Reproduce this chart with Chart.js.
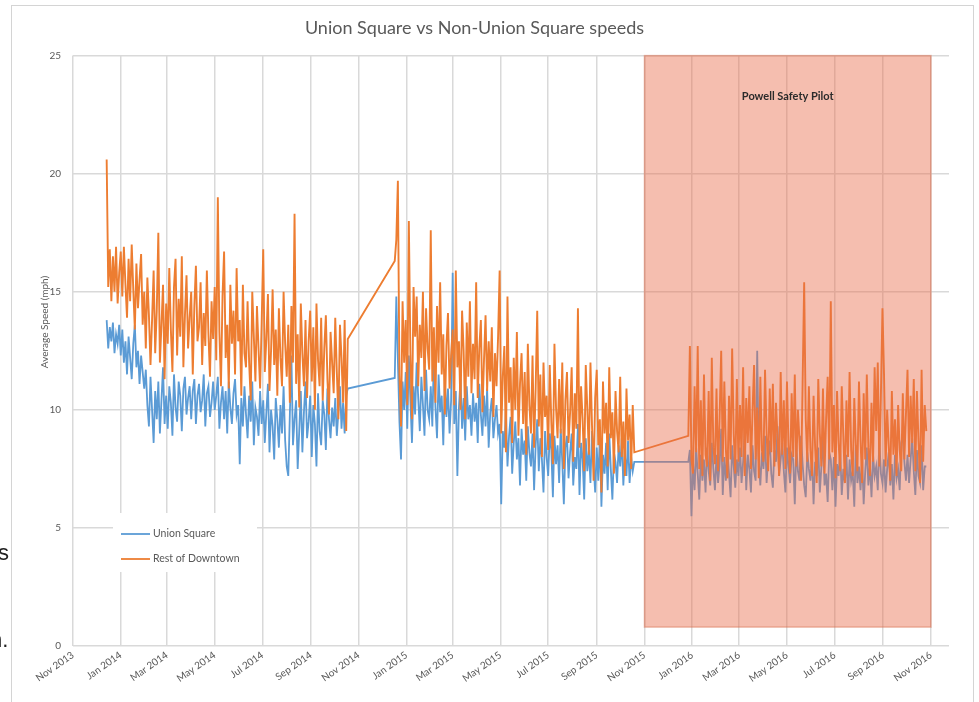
<!DOCTYPE html>
<html lang="en">
<head>
    <meta charset="UTF-8">
    <title>Union Square vs Non-Union Square speeds</title>
    <script src="https://cdn.jsdelivr.net/npm/chart.js"></script>
    <style>
        html, body { margin: 0; padding: 0; background: #fff; }
        #wrap { width: 979px; height: 702px; }
    </style>
</head>
<body>
    <div id="wrap"><canvas id="chart"></canvas></div>

    <script>
        // Dane (co 2 dni)
        const segmentStarts = ['2013-12-14', '2014-12-17', '2015-12-27'];
        const stepDays = 2;

        const restSeg1 = [20.6, 15.2, 16.8, 14.6, 16.5, 15.0, 16.9, 14.5, 15.8, 16.7,
            14.8, 16.9, 15.3, 13.9, 16.4, 14.6, 17.0, 15.1, 13.4, 16.2, 14.3, 15.5, 16.6, 13.6, 15.0,
            12.6, 15.6, 14.0, 11.9, 13.8, 15.9, 12.4, 14.2, 17.5, 12.0, 13.6, 15.3, 11.3, 14.5,
            12.8, 16.0, 13.4, 11.6, 15.2, 16.4, 12.3, 14.7, 13.1, 16.5, 11.8, 14.0, 15.7, 12.6, 13.9, 15.0,
            11.5, 14.4, 16.1, 12.9, 13.5, 15.4, 11.9, 14.1, 12.7, 15.9, 13.2, 11.4, 14.6, 13.0, 15.2,
            12.1, 19.0, 13.3, 11.0, 14.8, 16.7, 12.2, 13.6, 10.9, 15.3, 12.8, 14.2, 11.5, 16.0, 12.9,
            13.8, 10.6, 15.3, 12.4, 11.8, 14.6, 12.0, 10.4, 15.0, 13.1, 11.2, 14.4, 12.6, 10.9, 13.7,
            16.8, 11.6, 13.0, 14.9, 10.8, 12.5, 15.1, 11.9, 13.4, 10.6, 14.3, 12.2, 11.0, 15.0, 12.8, 11.4,
            13.6, 10.3, 14.4, 12.0, 18.3, 11.1, 13.2, 10.1, 14.5, 12.4, 11.0, 13.8, 10.5, 12.9, 14.2,
            11.2, 13.5, 10.0, 14.5, 12.1, 11.0, 13.9, 10.4, 12.6, 14.0, 11.3, 9.8, 13.3, 12.0, 10.7,
            13.9, 11.6, 9.6, 13.6, 12.2, 10.3, 13.8, 9.1, 13.0];
        const restSeg2 = [16.3, 17.2, 19.7, 11.5, 9.3, 14.6, 12.0,
            13.8, 10.2, 18.0, 12.4, 9.6, 15.2, 13.1, 14.8, 11.0, 13.6, 12.2, 15.0, 10.8, 14.3, 12.6, 11.7,
            17.6, 11.2, 13.5, 10.3, 14.4, 12.0, 15.4, 11.5, 13.2, 9.8, 12.7, 14.1, 10.9, 12.3,
            13.4, 10.2, 15.9, 11.8, 12.9, 10.0, 14.2, 12.5, 9.6, 13.7, 11.4, 14.6, 10.7, 12.8, 11.3,
            15.4, 10.5, 12.6, 13.8, 9.9, 12.1, 14.0, 10.8, 12.9, 11.2, 13.5, 9.7, 12.4, 11.0, 13.1,
            15.9, 9.0, 11.4, 12.7, 8.2, 14.8, 10.3, 11.8, 8.6, 12.2, 10.0, 13.3, 8.9, 11.1, 12.4, 9.4,
            11.6, 8.1, 12.8, 10.2, 9.0, 12.3, 8.4, 10.9, 14.2, 9.3, 11.5, 8.0, 12.0, 9.7, 10.6,
            8.3, 11.9, 9.5, 7.7, 12.8, 10.1, 8.8, 11.3, 9.0, 12.0, 7.5, 10.4, 11.6, 8.6, 9.9,
            11.8, 7.8, 10.7, 9.2, 14.3, 8.4, 11.0, 9.6, 7.4, 11.9, 10.0, 8.1, 12.0, 9.3, 7.0, 10.5,
            11.7, 8.5, 9.6, 6.5, 11.2, 9.0, 10.3, 7.6, 11.8, 8.8, 9.9, 7.3, 10.8, 9.1, 8.2,
            11.4, 8.0, 9.5, 7.2, 10.9, 8.7, 9.8, 7.5, 10.2, 8.2];
        const restSeg3 = [8.9, 12.7, 7.9,
            7.3, 11.0, 8.2, 12.7, 7.5, 10.4, 7.2, 11.5, 8.1, 7.6, 10.8, 7.0, 12.2, 8.4, 7.7,
            10.9, 7.4, 9.7, 12.5, 7.8, 11.2, 8.3, 7.1, 10.6, 7.9, 12.6, 9.0, 7.3, 11.3, 7.8,
            10.2, 8.0, 11.8, 7.2, 10.5, 8.6, 11.0, 7.5, 9.9, 11.9, 7.9, 10.1, 7.1, 11.4, 8.3,
            7.8, 11.7, 9.0, 7.4, 10.9, 8.2, 11.1, 7.6, 10.3, 8.8, 7.2, 11.6, 8.1, 10.4, 7.5,
            11.2, 8.5, 7.3, 10.7, 8.0, 11.5, 7.6, 10.0, 8.7, 7.0, 11.1, 15.4, 9.6, 7.8, 11.0, 8.3,
            7.2, 10.6, 8.4, 6.9, 11.3, 9.0, 7.6, 10.9, 7.3, 9.6, 11.4, 7.9, 14.6, 8.2, 10.2,
            7.1, 10.8, 8.6, 7.4, 11.0, 8.9, 6.9, 10.4, 8.0, 11.6, 8.3, 7.2, 10.5, 8.5, 7.4, 11.2,
            8.7, 6.9, 10.7, 7.9, 11.5, 8.4, 7.2, 10.3, 7.8, 11.8, 9.1, 12.0, 7.6, 10.6, 14.3,
            11.5, 7.6, 10.0, 8.5, 7.0, 10.8, 8.1, 9.6, 7.2, 10.2, 8.3, 7.4, 10.7, 7.9, 9.8,
            11.7, 8.0, 10.6, 8.6, 11.3, 7.4, 10.8, 8.7, 6.9, 11.7, 7.8, 10.2, 9.1];

        const unionSeg1 = [13.8, 12.6, 13.5, 12.9, 13.7, 12.4, 13.2, 12.8, 13.6, 12.3,
            13.4, 12.0, 12.9, 11.5, 13.1, 12.2, 11.3, 12.8, 13.6, 11.8, 12.5, 11.1, 12.3, 11.6, 10.9,
            11.7, 10.2, 9.3, 11.4, 10.0, 8.6, 10.8, 9.6, 11.2, 9.0, 10.4, 11.8, 9.4, 10.6,
            9.2, 11.0, 10.3, 8.9, 11.5, 10.1, 9.5, 11.2, 10.6, 9.1, 10.9, 11.4, 9.8, 10.5, 11.0, 9.6,
            10.8, 11.3, 9.4, 10.6, 11.1, 9.9, 10.4, 11.5, 9.3, 10.7, 11.0, 9.7, 10.3, 11.2, 10.0,
            10.6, 11.4, 9.2, 10.3, 11.0, 9.6, 10.8, 9.0, 11.2, 10.1, 9.4, 10.7, 11.3, 9.8, 10.2,
            7.7, 10.5, 9.3, 11.0, 9.8, 8.8, 10.6, 9.5, 11.2, 8.5, 10.1, 9.7, 8.9, 10.8, 9.4,
            10.4, 8.6, 9.9, 11.1, 8.2, 10.0, 9.3, 7.9, 10.5, 9.6, 8.4, 10.2, 9.0, 11.0, 8.7, 7.6,
            7.2, 9.8, 12.3, 8.5, 9.6, 10.4, 7.5, 9.1, 10.8, 8.2, 9.9, 11.2, 8.8, 9.5, 10.6,
            8.0, 10.2, 9.4, 7.6, 10.7, 9.1, 8.5, 10.4, 9.8, 8.3, 10.9, 9.6, 8.8, 10.1, 9.3,
            10.5, 8.9, 9.9, 11.0, 9.2, 10.3, 9.0, 10.6, 10.9];
        const unionSeg2 = [11.35, 14.8, 12.1, 9.5, 7.9, 11.2, 10.0,
            11.6, 9.2, 12.3, 10.4, 8.6, 11.0, 9.8, 12.0, 10.5, 9.1, 11.4, 10.2, 8.9, 11.7, 10.0, 9.6,
            11.0, 9.3, 12.4, 10.1, 8.8, 11.5, 9.9, 10.6, 8.5, 11.2, 9.7, 10.9, 9.0, 10.4,
            15.8, 9.4, 10.8, 7.2, 10.1, 11.3, 9.2, 10.5, 8.7, 11.0, 9.6, 10.2, 8.9, 10.7, 9.5,
            10.3, 8.6, 11.1, 9.8, 8.9, 10.6, 9.3, 10.9, 8.4, 9.9, 10.5, 8.8, 9.6, 10.2, 9.0,
            9.4, 6.0, 9.1, 8.4, 10.0, 7.6, 8.9, 9.7, 7.3, 8.6, 9.5, 7.9, 8.8, 6.8, 9.2, 8.1,
            8.7, 7.0, 9.3, 8.2, 7.6, 9.0, 6.6, 8.5, 9.6, 7.4, 8.8, 7.9, 6.5, 9.1, 8.0,
            7.2, 9.0, 8.3, 6.3, 8.9, 7.7, 8.5, 6.9, 9.2, 7.8, 6.0, 8.4, 8.9, 7.1, 8.2,
            9.0, 6.8, 8.0, 7.5, 9.4, 6.4, 8.6, 7.9, 6.2, 8.8, 7.4, 8.3, 6.9, 9.1, 7.7, 6.5,
            8.4, 7.0, 8.9, 5.9, 8.1, 7.3, 8.6, 6.6, 9.0, 7.5, 6.2, 8.2, 7.8, 6.9, 8.5,
            7.6, 8.8, 6.8, 8.1, 7.2, 8.7, 6.9, 8.0, 7.4, 7.8];
        const unionSeg3 = [7.8, 8.3, 5.5,
            7.8, 6.6, 8.4, 7.3, 6.2, 8.1, 7.0, 7.9, 6.5, 8.4, 7.4, 6.8, 8.6, 7.5, 6.6,
            8.1, 6.9, 7.7, 9.2, 6.4, 8.0, 7.0, 8.3, 7.3, 6.3, 8.5, 7.6, 6.7, 7.9, 7.2,
            8.4, 6.9, 7.8, 9.0, 6.6, 8.1, 7.5, 6.5, 8.5, 7.4, 7.0, 12.5, 7.9, 6.8, 8.2,
            7.5, 8.9, 6.9, 8.0, 8.7, 7.3, 6.7, 8.3, 7.8, 9.3, 7.2, 7.9, 8.6, 7.4, 6.5,
            8.4, 7.6, 6.9, 8.1, 7.9, 6.0, 8.5, 7.4, 7.0, 8.9, 7.7, 6.8, 6.3, 8.2, 7.5, 7.0,
            8.1, 6.0, 7.8, 7.2, 8.4, 6.5, 7.6, 8.8, 6.8, 7.3, 6.1, 8.2, 7.9, 6.6, 8.0,
            5.9, 7.7, 7.2, 8.3, 6.4, 7.5, 6.9, 8.1, 6.2, 7.9, 7.0, 7.4, 5.9, 8.5, 6.9, 7.6,
            6.6, 8.0, 6.0, 7.4, 8.4, 6.8, 7.7, 6.3, 8.1, 7.2, 7.6, 6.6, 8.7, 7.3, 6.9,
            7.9, 6.5, 7.5, 8.2, 6.8, 7.7, 6.2, 8.1, 7.1, 7.5, 6.6, 8.6, 8.9, 7.8, 7.0,
            8.1, 6.9, 7.9, 8.8, 7.4, 6.4, 8.3, 7.2, 6.9, 8.5, 6.6, 7.6, 7.6];

        const xTickLabels = ['Nov 2013', 'Jan 2014', 'Mar 2014', 'May 2014', 'Jul 2014', 'Sep 2014',
            'Nov 2014', 'Jan 2015', 'Mar 2015', 'May 2015', 'Jul 2015', 'Sep 2015',
            'Nov 2015', 'Jan 2016', 'Mar 2016', 'May 2016', 'Jul 2016', 'Sep 2016', 'Nov 2016'];
        const xAxisEnd = '2016-11-24';

        // Okres pilotażu
        const pilotStart = '2015-11-01';
        const pilotEnd = '2016-11-01';
        const pilotLow = 0.8;
        const pilotHigh = 25;
        const pilotLabel = 'Powell Safety Pilot';

        const BLUE = '#5B9BD5';
        const ORANGE = '#ED7D31';
        const TEXT = '#595959';
        const GRID = '#d9d9d9';

        const ORIGIN = Date.UTC(2013, 10, 1);
        const MONTHS = {Jan: 0, Feb: 1, Mar: 2, Apr: 3, May: 4, Jun: 5, Jul: 6, Aug: 7, Sep: 8, Oct: 9, Nov: 10, Dec: 11};

        function dayOf(str) {
            const [y, m, d] = str.split('-').map(Number);
            return (Date.UTC(y, m - 1, d) - ORIGIN) / 86400000;
        }

        function labelDay(label) {
            const [mon, yr] = label.split(' ');
            return (Date.UTC(Number(yr), MONTHS[mon], 1) - ORIGIN) / 86400000;
        }

        function toPoints(segments) {
            const pts = [];
            segments.forEach((vals, s) => {
                const d0 = dayOf(segmentStarts[s]);
                vals.forEach((v, i) => pts.push({x: d0 + i * stepDays, y: v}));
            });
            return pts;
        }

        const tickDays = xTickLabels.map(labelDay);
        const labelByDay = {};
        xTickLabels.forEach((l, i) => { labelByDay[tickDays[i]] = l; });

        // Ramka wokół wykresu + resztki tekstu z lewej strony
        const framePlugin = {
            id: 'frame',
            beforeDraw(chart) {
                const ctx = chart.ctx;
                ctx.save();
                ctx.strokeStyle = '#d4d4d4';
                ctx.lineWidth = 1;
                ctx.strokeRect(11.5, 5.5, 962, 720);
                ctx.restore();
            },
            afterDraw(chart) {
                const ctx = chart.ctx;
                ctx.save();
                ctx.fillStyle = '#222';
                ctx.font = '22px "Liberation Sans", Arial';
                ctx.textBaseline = 'alphabetic';
                ctx.fillText('s', -2, 560);
                ctx.fillText('n.', -10, 647);
                // tytuł osi Y
                ctx.fillStyle = TEXT;
                ctx.font = '10px Lato';
                ctx.translate(45, 322);
                ctx.rotate(-Math.PI / 2);
                ctx.textAlign = 'center';
                ctx.textBaseline = 'middle';
                ctx.fillText('Average Speed (mph)', 0, 0);
                ctx.restore();
            }
        };

        // Prostokąt pilotażu (półprzezroczysty, nad liniami) i legenda w obszarze wykresu
        const overlayPlugin = {
            id: 'overlay',
            afterDatasetsDraw(chart) {
                const {ctx, scales: {x, y}, chartArea} = chart;
                const x0 = x.getPixelForValue(dayOf(pilotStart));
                const x1 = x.getPixelForValue(dayOf(pilotEnd));
                const y0 = y.getPixelForValue(pilotHigh);
                const y1 = y.getPixelForValue(pilotLow);
                ctx.save();
                ctx.fillStyle = 'rgba(232, 108, 72, 0.44)';
                ctx.fillRect(x0, y0, x1 - x0, y1 - y0);
                ctx.strokeStyle = 'rgba(215, 110, 80, 0.45)';
                ctx.lineWidth = 1.5;
                ctx.strokeRect(x0, y0, x1 - x0, y1 - y0);
                ctx.fillStyle = '#2b2b2b';
                ctx.font = 'bold 11px Lato';
                ctx.textAlign = 'center';
                ctx.textBaseline = 'middle';
                ctx.fillText(pilotLabel, (x0 + x1) / 2, y.getPixelForValue(23.25));

                // legenda
                const lx = chartArea.left + 40;
                const ly = chartArea.bottom - 133;
                ctx.fillStyle = '#fff';
                ctx.fillRect(lx, ly, 144, 59);
                const items = [['Union Square', BLUE], ['Rest of Downtown', ORANGE]];
                ctx.font = '10.5px Lato';
                ctx.textAlign = 'left';
                items.forEach(([txt, col], i) => {
                    const yy = ly + 21 + i * 25;
                    ctx.strokeStyle = col;
                    ctx.lineWidth = 1.8;
                    ctx.beginPath();
                    ctx.moveTo(lx + 8, yy);
                    ctx.lineTo(lx + 37, yy);
                    ctx.stroke();
                    ctx.fillStyle = TEXT;
                    ctx.fillText(txt, lx + 40, yy);
                });
                ctx.restore();
            }
        };

        Chart.defaults.font.family = 'Lato';
        Chart.defaults.color = TEXT;

        new Chart(document.getElementById('chart'), {
            type: 'line',
            data: {
                datasets: [
                    {
                        label: 'Union Square',
                        data: toPoints([unionSeg1, unionSeg2, unionSeg3]),
                        borderColor: BLUE,
                        borderWidth: 1.8,
                        pointRadius: 0,
                        order: 1
                    },
                    {
                        label: 'Rest of Downtown',
                        data: toPoints([restSeg1, restSeg2, restSeg3]),
                        borderColor: ORANGE,
                        borderWidth: 1.9,
                        pointRadius: 0,
                        order: 0
                    }
                ]
            },
            options: {
                responsive: true,
                maintainAspectRatio: false,
                animation: false,
                layout: { padding: { left: 0, right: 30, top: 0, bottom: 0 } },
                plugins: {
                    legend: { display: false },
                    tooltip: { enabled: false },
                    title: {
                        display: true,
                        text: 'Union Square vs Non-Union Square speeds',
                        color: TEXT,
                        font: { size: 18, weight: 'normal' },
                        padding: { top: 17, bottom: 17 }
                    }
                },
                scales: {
                    x: {
                        type: 'linear',
                        min: 0,
                        max: dayOf(xAxisEnd),
                        afterBuildTicks(scale) {
                            scale.ticks = tickDays.map(v => ({value: v}));
                        },
                        afterFit(scale) { scale.height = 56; },
                        ticks: {
                            autoSkip: false,
                            minRotation: 35,
                            maxRotation: 35,
                            padding: 3,
                            font: { size: 10 },
                            color: TEXT,
                            callback: v => labelByDay[v] || ''
                        },
                        grid: { color: GRID, lineWidth: 1.5, drawTicks: false },
                        border: { display: false }
                    },
                    y: {
                        min: 0,
                        max: 25,
                        afterFit(scale) { scale.width = 73; },
                        ticks: { stepSize: 5, padding: 12, font: { size: 10 }, color: TEXT },
                        grid: { color: GRID, lineWidth: 1.5, drawTicks: false },
                        border: { display: false }
                    }
                }
            },
            plugins: [framePlugin, overlayPlugin]
        });
    </script>
</body>
</html>
